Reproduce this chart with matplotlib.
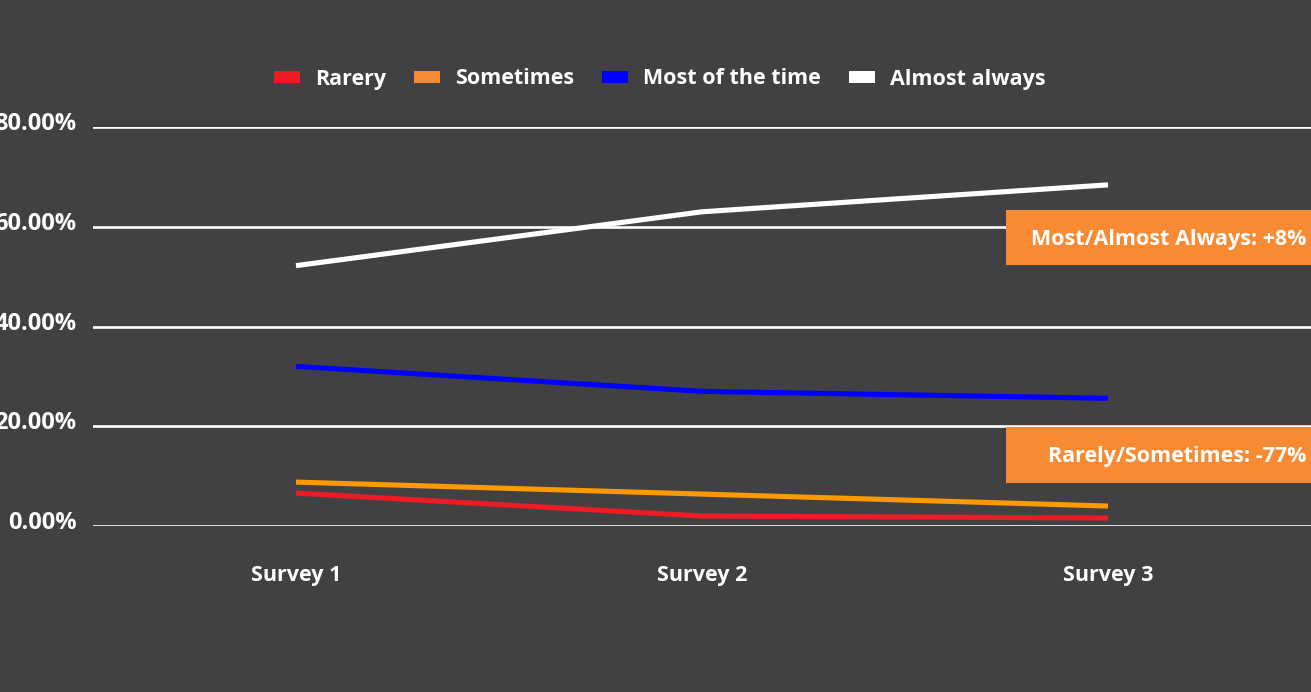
import matplotlib
matplotlib.use("Agg")
import matplotlib.pyplot as plt
import matplotlib.transforms as mtransforms
from matplotlib.patches import Patch, Rectangle

# data ---------------------------------------------------------------------
surveys = ["Survey 1", "Survey 2", "Survey 3"]
rarely = [6.6, 2.0, 1.6]
sometimes = [8.8, 6.4, 4.0]
most_time = [32.0, 27.0, 25.6]
almost_always = [52.2, 63.0, 68.4]
series_names = ["Rarery", "Sometimes", "Most of the time", "Almost always"]
yticks = [0, 20, 40, 60, 80]
callouts = ["Most/Almost Always: +8%", "Rarely/Sometimes: -77%"]

# style --------------------------------------------------------------------
BG = "#414042"
plt.rcParams["font.family"] = ["Open Sans", "DejaVu Sans"]
plt.rcParams["font.weight"] = "bold"
FS = 15.5
line_colors = ["#ED1C24", "#FF9900", "#0000FF", "#FFFFFF"]
legend_colors = ["#ED1C24", "#F68B33", "#0000FF", "#FFFFFF"]

fig = plt.figure(figsize=(13.11, 6.92), dpi=100, facecolor=BG)
ax = fig.add_axes([93 / 1311, 1 - 526 / 692, 1 - 93 / 1311, 399 / 692])
ax.set_facecolor(BG)

x = range(len(surveys))
for vals, c in zip([rarely, sometimes, most_time, almost_always], line_colors):
  ax.plot(x, vals, color=c, lw=3.7, solid_capstyle="butt", zorder=3)

ax.set_xlim(-0.5, 2.5)
ax.set_ylim(0, 80)
ax.set_yticks(yticks)
ax.set_yticklabels([f"{v:.2f}%" for v in yticks])
ax.set_xticks(list(x))
ax.set_xticklabels(surveys)
ax.tick_params(axis="both", length=0, colors="white", labelsize=FS)
ax.tick_params(axis="y", pad=12, labelsize=17)
ax.tick_params(axis="x", pad=28)
ax.grid(axis="y", color="white", lw=1.9, zorder=1)
for s in ax.spines.values():
  s.set_visible(False)
# y labels sit a little above their gridlines
shift = mtransforms.ScaledTranslation(0, 6 / 100, fig.dpi_scale_trans)
for lab in ax.get_yticklabels():
  lab.set_transform(lab.get_transform() + shift)

# callout boxes
for (y0, y1), txt in zip([(0.654, 0.792), (0.108, 0.248)], callouts):
  ax.add_patch(Rectangle((0.7496, y0), 0.26, y1 - y0, transform=ax.transAxes,
                         facecolor="#F68B33", edgecolor="none", zorder=4, clip_on=False))
  ax.text(0.996, (y0 + y1) / 2 - 0.004, txt, transform=ax.transAxes, ha="right", va="center",
          color="white", fontsize=FS, zorder=5)

# legend
handles = [Patch(facecolor=c, edgecolor="none") for c in legend_colors]
fig.legend(handles, series_names, loc="center", bbox_to_anchor=(660 / 1311, 1 - 79 / 692),
           ncol=4, frameon=False, fontsize=FS, labelcolor="white",
           handlelength=1.2, handleheight=0.5, handletextpad=0.7, columnspacing=1.3)

fig.savefig("out.png", dpi=100, facecolor=BG)
